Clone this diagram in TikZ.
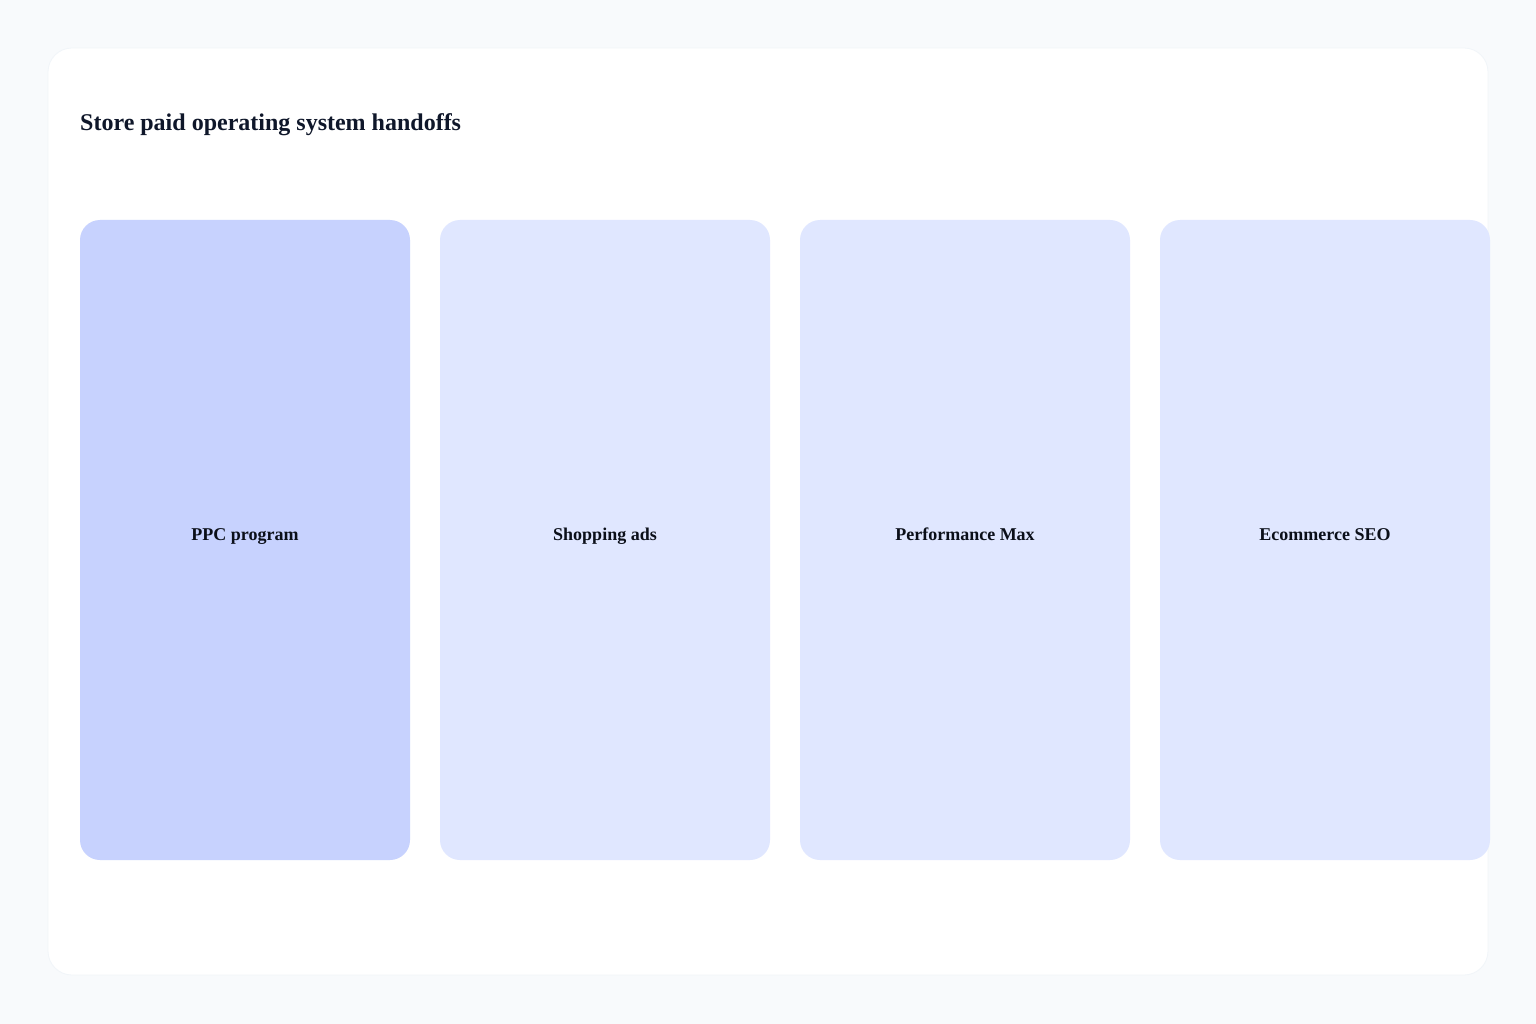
\documentclass[tikz,border=0pt]{standalone}
\usepackage{fontspec}
\setmainfont{Liberation Serif}
\definecolor{bg}{HTML}{F8FAFC}
\definecolor{cardc}{HTML}{FFFFFF}
\definecolor{cardline}{HTML}{F1F5F9}
\definecolor{colA}{HTML}{C7D2FE}
\definecolor{colB}{HTML}{E0E7FF}
\definecolor{titlec}{HTML}{0F172A}
\definecolor{labelc}{HTML}{0B0F19}
\begin{document}
\begin{tikzpicture}[x=1pt,y=-1pt,
  colbox/.style={rounded corners=20pt, draw=none, minimum width=330pt, minimum height=640pt, inner sep=0pt,
    text height=6pt, text depth=6pt,
    font=\fontsize{18}{22}\selectfont\bfseries, text=labelc},
  titletext/.style={font=\fontsize{24}{28}\selectfont\bfseries, text=titlec, inner sep=0pt, anchor=base west}]
\useasboundingbox (0,0) rectangle (1536,1024);
\fill[bg] (0,0) rectangle (1536,1024);
\filldraw[fill=cardc, draw=cardline, line width=0.8pt, rounded corners=24pt] (48,48) rectangle (1488,975);
\node[titletext] (title) at (80,130.5) {Store paid operating system handoffs};
\node[colbox, fill=colA] (c1) at (245,540) {PPC program};
\node[colbox, fill=colB] (c2) at (605,540) {Shopping ads};
\node[colbox, fill=colB] (c3) at (965,540) {Performance Max};
\node[colbox, fill=colB] (c4) at (1325,540) {Ecommerce SEO};
\end{tikzpicture}
\end{document}
